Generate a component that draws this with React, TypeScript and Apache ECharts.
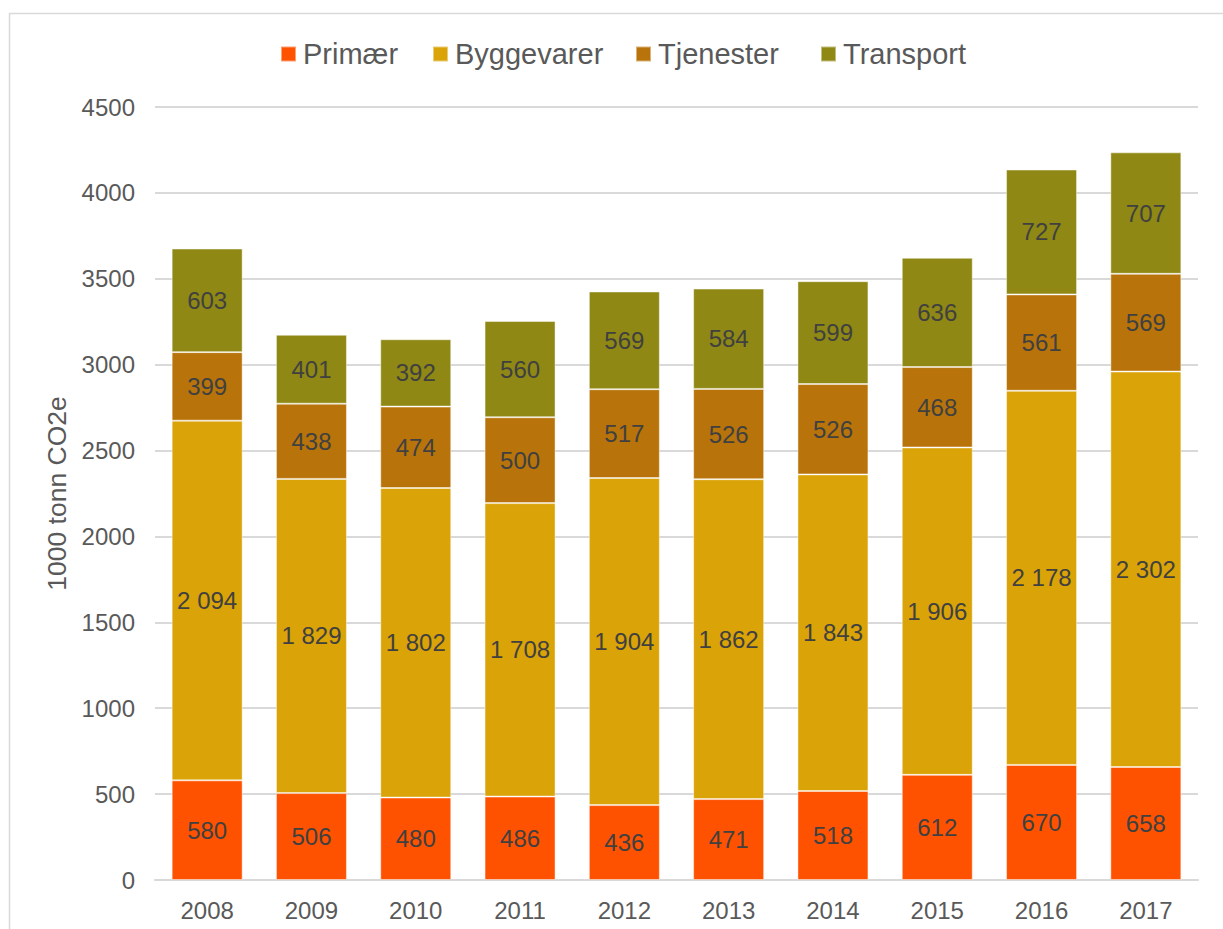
import React, { useEffect, useRef } from "react";
import * as echarts from "echarts";

const years = ["2008", "2009", "2010", "2011", "2012", "2013", "2014", "2015", "2016", "2017"];
const primaer = [580, 506, 480, 486, 436, 471, 518, 612, 670, 658];
const byggevarer = [2094, 1829, 1802, 1708, 1904, 1862, 1843, 1906, 2178, 2302];
const tjenester = [399, 438, 474, 500, 517, 526, 526, 468, 561, 569];
const transport = [603, 401, 392, 560, 569, 584, 599, 636, 727, 707];
const seriesNames = ["Primær", "Byggevarer", "Tjenester", "Transport"];
const seriesColors = ["#FF5200", "#DAA307", "#B8740A", "#8F8814"];

const fmt = (v: number) => {
  const s = String(Math.round(v));
  return s.replace(/\B(?=(\d{3})+(?!\d))/g, " ");
};

export default function App() {
  const ref = useRef<HTMLDivElement>(null);
  useEffect(() => {
    document.body.style.margin = "0";
    const chart = echarts.init(ref.current!, null, { renderer: "svg" });
    const font = "'Liberation Sans', Arial, sans-serif";
    const data = [primaer, byggevarer, tjenester, transport];
    const legendLefts = [280, 432, 635, 820];
    chart.setOption({
      animation: false,
      backgroundColor: "#ffffff",
      textStyle: { fontFamily: font },
      graphic: [
        {
          type: "rect",
          shape: { x: 9.5, y: 13.5, width: 1400, height: 1100 },
          style: { fill: "none", stroke: "#d9d9d9", lineWidth: 1.5 },
          silent: true,
        },
      ],
      legend: seriesNames.map((name, i) => ({
        left: legendLefts[i],
        top: 39,
        padding: 0,
        itemWidth: 15,
        itemHeight: 15,
        icon: "rect",
        textStyle: {
          fontSize: 29,
          lineHeight: 30,
          color: "#595959",
          fontFamily: font,
          padding: [0, 0, 0, 2],
        },
        data: [name],
      })),
      grid: { left: 155, right: 25, top: 107, bottom: 49 },
      xAxis: {
        type: "category",
        data: years,
        axisLine: { lineStyle: { color: "#d9d9d9", width: 2 } },
        axisTick: { show: false },
        axisLabel: { color: "#595959", fontSize: 24, margin: 18, fontFamily: font },
      },
      yAxis: {
        type: "value",
        min: 0,
        max: 4500,
        interval: 500,
        name: "1000 tonn CO2e",
        nameLocation: "middle",
        nameGap: 85,
        nameTextStyle: { color: "#595959", fontSize: 26.5, fontFamily: font },
        axisLine: { show: false },
        axisTick: { show: false },
        axisLabel: {
          color: "#595959",
          fontSize: 24,
          margin: 20,
          fontFamily: font,
          formatter: (v: number) => String(v),
        },
        splitLine: { lineStyle: { color: "#d9d9d9", width: 2 } },
      },
      series: seriesNames.map((name, i) => ({
        name,
        type: "bar",
        stack: "total",
        barWidth: 71,
        data: data[i],
        itemStyle: {
          color: seriesColors[i],
          borderColor: "rgba(255,255,255,0.45)",
          borderWidth: 1,
        },
        label: {
          show: true,
          position: "inside",
          color: "#404040",
          fontSize: 24,
          fontFamily: font,
          formatter: (p: any) => fmt(p.value),
        },
      })),
    });
    return () => chart.dispose();
  }, []);
  return <div ref={ref} style={{ width: 1223, height: 929 }} />;
}
